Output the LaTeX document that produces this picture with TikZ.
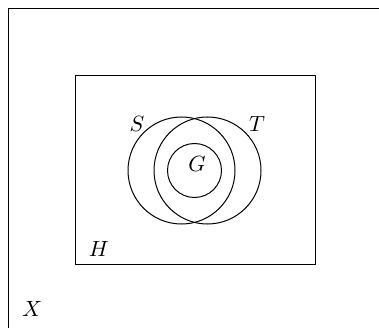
\documentclass[tikz,border=0pt]{standalone}
\begin{document}
\begin{tikzpicture}[x=1pt,y=-1pt,line width=1pt,
  lbl/.style={inner sep=0pt,scale=2.2}]
\useasboundingbox (0,0) rectangle (379,328);
\draw (8,328) -- (8,8.5) -- (379,8.5);
\draw (75,76) rectangle (315,264);
\draw (181.5,170.5) circle (53.5);
\draw (207.5,170.5) circle (53.5);
\draw (194.5,170.5) circle (27);
\node[lbl] (s) at (137,124) {$S$};
\node[lbl] (t) at (257,124) {$T$};
\node[lbl] (g) at (197,164) {$G$};
\node[lbl] (h) at (99,249) {$H$};
\node[lbl] (x) at (32,309) {$X$};
\end{tikzpicture}
\end{document}
